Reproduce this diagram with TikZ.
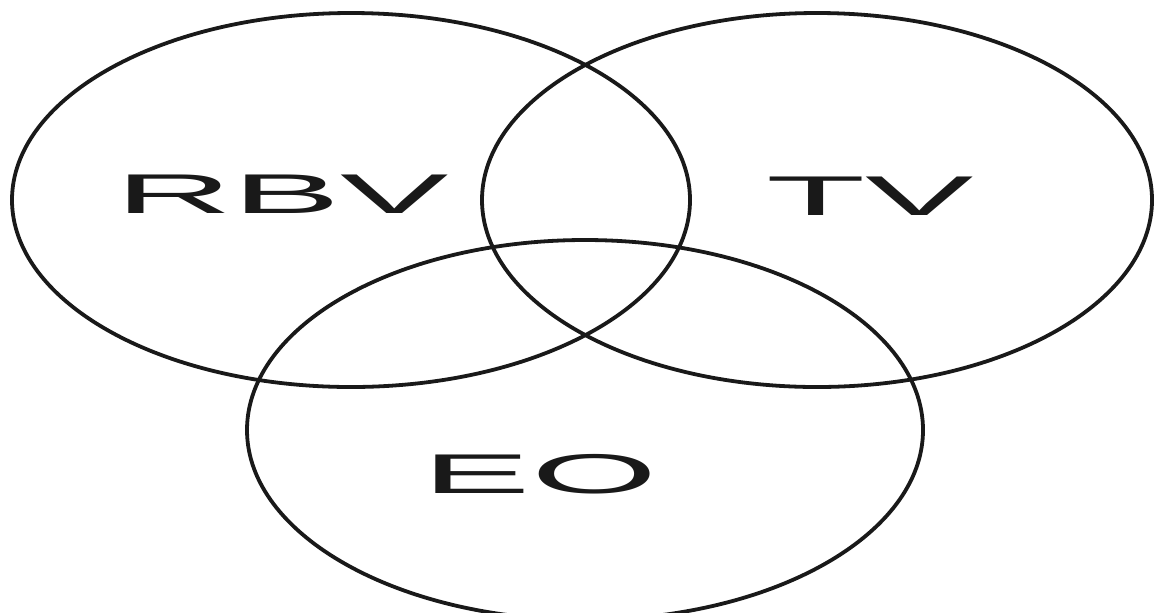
\documentclass[tikz,border=0pt]{standalone}
\usepackage{fontspec}
\setmainfont{Liberation Sans}
\usepackage{tikz}
\usetikzlibrary{positioning}

\begin{document}
\begin{tikzpicture}[x=0.5pt,y=-0.5pt,
  venn/.style={draw=black!90,line width=1.9pt},
  lbl/.style={font=\fontsize{28}{30}\selectfont,xscale=2.9,inner sep=0pt,anchor=base,text=black!90}]
  \useasboundingbox (0,0) rectangle (1154,612);
  \clip (0,0) rectangle (1154,612);
  % the three sets
  \draw[venn] (351,200) ellipse [x radius=339,y radius=187];
  \draw[venn] (817,200) ellipse [x radius=335,y radius=187];
  \draw[venn] (585,430) ellipse [x radius=338,y radius=190];
  % labels
  \node[lbl] (rbv) at (282,213) {RBV};
  \node[lbl] (tv) at (870,215) {TV};
  \node[lbl] (eo) at (540,493) {EO};
\end{tikzpicture}
\end{document}
